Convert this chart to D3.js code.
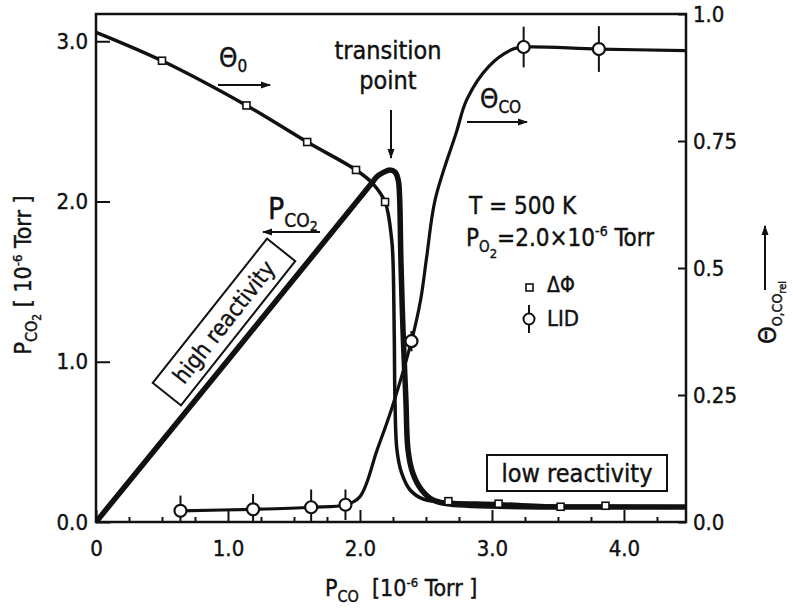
<!DOCTYPE html>
<html>
<head>
<meta charset="utf-8">
<script src="https://cdn.jsdelivr.net/npm/d3@7"></script>
<style>
  body { margin: 0; background: #fff; }
  svg text { font-family: "DejaVu Sans Condensed", "DejaVu Sans", sans-serif; fill: #111; stroke: #111; stroke-width: 0.4px; white-space: pre; }
</style>
</head>
<body>
<svg id="chart" width="793" height="611"></svg>
<script>
// axis ticks
const xTicks = [0, 1, 2, 3, 4];
const xTickLabels = ["0", "1.0", "2.0", "3.0", "4.0"];
const leftTicks = [0, 1, 2, 3];
const rightTicks = [0, 0.25, 0.5, 0.75, 1];
const rightTickLabels = ["0.0", "0.25", "0.5", "0.75", "1.0"];

// P_CO2 (left axis, 10^-6 Torr) vs P_CO
const pco2X = [0, 2.09, 2.127, 2.174, 2.227, 2.265, 2.29, 2.30, 2.31, 2.326, 2.348, 2.364, 2.40, 2.467, 2.553, 2.68, 4.47];
const pco2Y = [0, 2.115, 2.155, 2.18, 2.197, 2.184, 2.134, 2.03, 1.635, 1.198, 0.761, 0.449, 0.306, 0.20, 0.137, 0.112, 0.094];

// theta_O (right axis), fitted curve + work function points
const thetaOX = [0, 0.50, 1.14, 1.60, 1.97, 2.09, 2.19, 2.24, 2.25, 2.26, 2.265, 2.28, 2.315, 2.38, 2.48, 2.61, 3.05, 3.52, 3.86, 4.47];
const thetaOY = [0.964, 0.908, 0.820, 0.748, 0.693, 0.668, 0.630, 0.556, 0.516, 0.36, 0.241, 0.142, 0.097, 0.063, 0.045, 0.040, 0.036, 0.031, 0.031, 0.030];
const dphiX = [0.50, 1.14, 1.60, 1.97, 2.19, 2.67, 3.05, 3.52, 3.86];
const dphiY = [0.908, 0.820, 0.748, 0.693, 0.630, 0.041, 0.036, 0.030, 0.032];

// theta_CO (right axis), fitted curve + LID points
const thetaCOX = [0.64, 1.19, 1.63, 1.89, 2.00, 2.13, 2.24, 2.39, 2.46, 2.505, 2.57, 2.73, 2.81, 2.98, 3.16, 3.24, 3.81, 4.47];
const thetaCOY = [0.022, 0.025, 0.029, 0.034, 0.05, 0.142, 0.223, 0.356, 0.438, 0.521, 0.635, 0.767, 0.832, 0.898, 0.931, 0.935, 0.931, 0.928];
const lidX = [0.64, 1.19, 1.63, 1.89, 2.39, 3.24, 3.81];
const lidY = [0.022, 0.025, 0.029, 0.034, 0.356, 0.935, 0.931];
const lidErr = [0.03, 0.03, 0.035, 0.03, 0.02, 0.04, 0.045];

const svg = d3.select("#chart");
const L = 96, R = 686, T = 14, B = 522;

const x = d3.scaleLinear().domain([0, 4.47]).range([L, R]);
const yL = d3.scaleLinear().domain([0, 3.17]).range([B, T]);
const yR = d3.scaleLinear().domain([0, 1]).range([B, T]);

svg.append("defs").append("clipPath").attr("id", "plot")
  .append("rect").attr("x", L).attr("y", T).attr("width", R - L).attr("height", B - T);

svg.append("defs").append("marker")
  .attr("id", "head").attr("viewBox", "0 0 10 10").attr("refX", 9).attr("refY", 5)
  .attr("markerWidth", 5).attr("markerHeight", 5).attr("orient", "auto")
  .append("path").attr("d", "M0,1.5L10,5L0,8.5Z").attr("fill", "#111");

// axes
function styleAxis(g) {
  g.select(".domain").remove();
  g.selectAll(".tick line").attr("stroke", "#111").attr("stroke-width", 2);
  g.selectAll(".tick text").style("font-size", "22px").attr("fill", "#111");
}

svg.append("g").attr("transform", `translate(0,${B})`)
  .call(d3.axisBottom(x).tickValues(xTicks).tickFormat((d, i) => xTickLabels[i])
    .tickSizeInner(-12).tickSizeOuter(0).tickPadding(18))
  .call(styleAxis);

svg.append("g").attr("transform", `translate(0,${B})`)
  .call(d3.axisBottom(x).tickValues(d3.range(1, 18).map(d => d * 0.25).filter(d => d % 1 !== 0))
    .tickFormat("").tickSizeInner(-5).tickSizeOuter(0))
  .call(styleAxis);

svg.append("g").attr("transform", `translate(${L},0)`)
  .call(d3.axisLeft(yL).tickValues(leftTicks).tickFormat(d3.format(".1f"))
    .tickSizeInner(-14).tickSizeOuter(0).tickPadding(8))
  .call(styleAxis);

svg.append("g").attr("transform", `translate(${R},0)`)
  .call(d3.axisRight(yR).tickValues(rightTicks).tickFormat((d, i) => rightTickLabels[i])
    .tickSizeInner(-8).tickSizeOuter(0).tickPadding(7))
  .call(styleAxis);

svg.append("rect").attr("x", L).attr("y", T).attr("width", R - L).attr("height", B - T)
  .attr("fill", "none").attr("stroke", "#111").attr("stroke-width", 2.5);

// curves
const plot = svg.append("g").attr("clip-path", "url(#plot)");
const curve = d3.curveCatmullRom.alpha(0.5);

function drawCurve(xs, ys, yScale, width) {
  plot.append("path")
    .datum(xs.map((d, i) => [d, ys[i]]))
    .attr("fill", "none").attr("stroke", "#111").attr("stroke-width", width)
    .attr("stroke-linejoin", "round").attr("stroke-linecap", "round")
    .attr("d", d3.line().x(d => x(d[0])).y(d => yScale(d[1])).curve(curve));
}
drawCurve(thetaOX, thetaOY, yR, 3.5);
drawCurve(thetaCOX, thetaCOY, yR, 3.2);
drawCurve(pco2X, pco2Y, yL, 5.5);

// LID error bars and circles
const lid = lidX.map((d, i) => ({ x: d, y: lidY[i], e: lidErr[i] }));
svg.append("g").selectAll("line").data(lid).join("line")
  .attr("x1", d => x(d.x)).attr("x2", d => x(d.x))
  .attr("y1", d => yR(d.y + d.e)).attr("y2", d => yR(Math.max(0, d.y - d.e)))
  .attr("stroke", "#111").attr("stroke-width", 2);
svg.append("g").selectAll("circle").data(lid).join("circle")
  .attr("cx", d => x(d.x)).attr("cy", d => yR(d.y)).attr("r", 6)
  .attr("fill", "#fff").attr("stroke", "#111").attr("stroke-width", 2.2);

// work function squares
svg.append("g").selectAll("rect").data(dphiX.map((d, i) => [d, dphiY[i]])).join("rect")
  .attr("x", d => x(d[0]) - 3.5).attr("y", d => yR(d[1]) - 3.5)
  .attr("width", 7).attr("height", 7)
  .attr("fill", "#fff").attr("stroke", "#111").attr("stroke-width", 1.6);

// text with sub/superscripts: parts = [text, size, shift]
function rich(g, parts, attrs) {
  const t = g.append("text");
  Object.entries(attrs).forEach(([k, v]) => t.attr(k, v));
  let prev = 0;
  parts.forEach(([s, size, shift]) => {
    t.append("tspan").attr("dy", shift - prev).style("font-size", size + "px").text(s);
    prev = shift;
  });
  return t;
}

function arrow(x1, y1, x2, y2) {
  svg.append("line").attr("x1", x1).attr("y1", y1).attr("x2", x2).attr("y2", y2)
    .attr("stroke", "#111").attr("stroke-width", 2).attr("marker-end", "url(#head)");
}

// axis titles
rich(svg, [["P", 23, 0], ["CO", 16, 6], ["2", 12, 10], [" [ 10", 23, 0], ["-6", 13, -9], [" Torr ]", 23, 0]],
  { transform: "translate(31,275) rotate(-90)", "text-anchor": "middle" });
rich(svg, [["P", 23, 0], ["CO", 16, 6], ["  [10", 23, 0], ["-6", 13, -9], [" Torr ]", 23, 0]],
  { x: 325, y: 596 });
rich(svg, [["Θ", 25, 0], ["O,CO", 14, 6], ["rel", 11, 10]],
  { transform: "translate(776,344) rotate(-90)" });
arrow(765, 290, 765, 226);

// annotations
rich(svg, [["Θ", 26, 0], ["0", 17, 5]], { x: 219, y: 67 });
arrow(218, 85, 270, 85);

svg.append("text").attr("x", 388).attr("y", 59).attr("text-anchor", "middle")
  .style("font-size", "25px").text("transition");
svg.append("text").attr("x", 388).attr("y", 89).attr("text-anchor", "middle")
  .style("font-size", "25px").text("point");
arrow(391, 110, 391, 158);

rich(svg, [["Θ", 26, 0], ["CO", 17, 5]], { x: 480, y: 108 });
arrow(467, 122, 527, 122);

rich(svg, [["P", 30, 0], ["CO", 19, 8], ["2", 14, 12]], { x: 268, y: 219 });
arrow(320, 232, 263, 232);

svg.append("text").attr("x", 469).attr("y", 214).style("font-size", "24px").text("T = 500 K");
rich(svg, [["P", 24, 0], ["O", 15, 6], ["2", 13, 12], ["=2.0×10", 24, 0], ["-6", 14, -10], [" Torr", 24, 0]],
  { x: 466, y: 246 });

// legend
svg.append("rect").attr("x", 526).attr("y", 284).attr("width", 7).attr("height", 7)
  .attr("fill", "#fff").attr("stroke", "#111").attr("stroke-width", 1.6);
svg.append("text").attr("x", 547).attr("y", 292).style("font-size", "21px").text("ΔΦ");
svg.append("line").attr("x1", 529).attr("x2", 529).attr("y1", 305).attr("y2", 333)
  .attr("stroke", "#111").attr("stroke-width", 2);
svg.append("circle").attr("cx", 529).attr("cy", 319).attr("r", 5.5)
  .attr("fill", "#fff").attr("stroke", "#111").attr("stroke-width", 2);
svg.append("text").attr("x", 547).attr("y", 326).style("font-size", "22px").text("LID");

// boxed labels
const hi = svg.append("g").attr("transform", "translate(224,322) rotate(-51.6)");
hi.append("rect").attr("x", -92).attr("y", -18).attr("width", 184).attr("height", 36)
  .attr("fill", "#fff").attr("stroke", "#111").attr("stroke-width", 2);
hi.append("text").attr("text-anchor", "middle").attr("y", 8).style("font-size", "23px").text("high reactivity");

svg.append("rect").attr("x", 487).attr("y", 455).attr("width", 180).attr("height", 36)
  .attr("fill", "#fff").attr("stroke", "#111").attr("stroke-width", 2);
svg.append("text").attr("x", 577).attr("y", 482).attr("text-anchor", "middle")
  .style("font-size", "25px").text("low reactivity");
</script>
</body>
</html>
